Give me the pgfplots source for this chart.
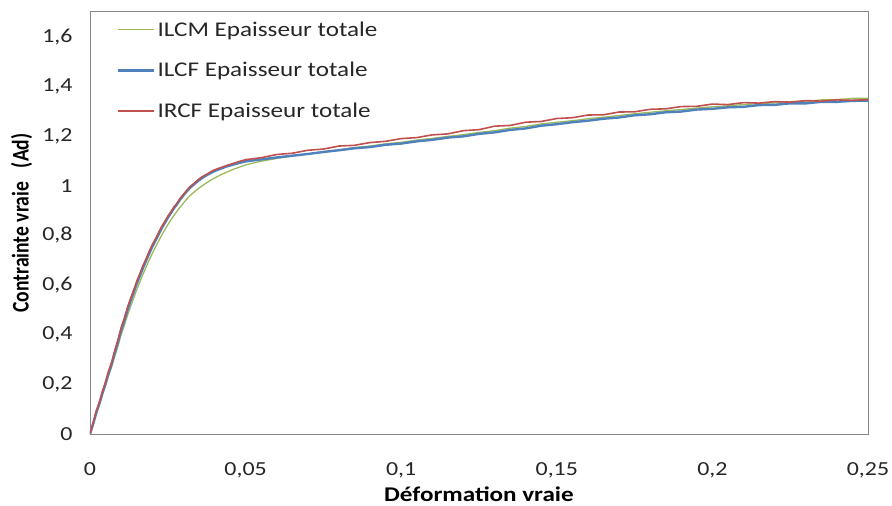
\documentclass[border=0pt]{standalone}
\usepackage{pgfplots}
\pgfplotsset{compat=1.18}
\usepackage{pgfplotstable}
\usepackage{fontspec}
\setmainfont{Carlito}[FakeStretch=1.2]
\newfontfamily\ylabfont{Carlito}[FakeStretch=0.82]
\definecolor{xlgreen}{HTML}{9BBB59}
\definecolor{xlblue}{HTML}{4F81BD}
\definecolor{xlred}{HTML}{C0504D}
\definecolor{axgray}{HTML}{878787}

\pgfplotstableread{
x y
0 0
0.001 0.038
0.002 0.08
0.003 0.116
0.004 0.158
0.005 0.195
0.006 0.236
0.007 0.272
0.008 0.315
0.009 0.355
0.010 0.4
0.011 0.436
0.012 0.476
0.013 0.512
0.014 0.546
0.015 0.58
0.016 0.612
0.017 0.643
0.018 0.672
0.019 0.7
0.020 0.727
0.021 0.752
0.022 0.776
0.023 0.8
0.024 0.822
0.025 0.843
0.026 0.862
0.027 0.881
0.028 0.898
0.029 0.915
0.030 0.93
0.031 0.945
0.032 0.958
0.033 0.97
0.034 0.98
0.035 0.99
0.036 0.999
0.037 1.008
0.038 1.016
0.039 1.024
0.040 1.031
0.042 1.044
0.044 1.055
0.046 1.066
0.048 1.075
0.050 1.084
0.055 1.099
0.060 1.11
0.065 1.12
0.070 1.128
0.075 1.138
0.080 1.145
0.085 1.154
0.090 1.160
0.095 1.169
0.100 1.175
0.105 1.184
0.110 1.191
0.115 1.199
0.120 1.206
0.125 1.215
0.130 1.222
0.135 1.232
0.140 1.239
0.145 1.249
0.150 1.256
0.155 1.262
0.160 1.270
0.165 1.276
0.170 1.283
0.175 1.290
0.180 1.296
0.185 1.302
0.190 1.307
0.195 1.313
0.200 1.318
0.205 1.322
0.210 1.327
0.215 1.331
0.220 1.334
0.225 1.339
0.230 1.340
0.235 1.346
0.240 1.347
0.245 1.352
0.250 1.352
}\ilcm

\pgfplotstableread{
x y
0 0
0.001 0.04
0.002 0.085
0.003 0.122
0.004 0.165
0.005 0.203
0.006 0.246
0.007 0.283
0.008 0.328
0.009 0.37
0.010 0.417
0.011 0.455
0.012 0.497
0.013 0.535
0.014 0.569
0.015 0.605
0.016 0.636
0.017 0.668
0.018 0.697
0.019 0.726
0.020 0.754
0.021 0.778
0.022 0.803
0.023 0.828
0.024 0.849
0.025 0.871
0.026 0.89
0.027 0.91
0.028 0.926
0.029 0.945
0.030 0.961
0.031 0.976
0.032 0.99
0.033 1.001
0.034 1.012
0.035 1.022
0.036 1.031
0.037 1.039
0.038 1.046
0.039 1.053
0.040 1.059
0.042 1.069
0.044 1.078
0.046 1.085
0.048 1.092
0.050 1.098
0.055 1.106
0.060 1.114
0.065 1.121
0.070 1.128
0.075 1.136
0.080 1.143
0.085 1.151
0.090 1.156
0.095 1.165
0.100 1.170
0.105 1.179
0.110 1.185
0.115 1.194
0.120 1.199
0.125 1.209
0.130 1.215
0.135 1.225
0.140 1.231
0.145 1.242
0.150 1.248
0.155 1.256
0.160 1.262
0.165 1.270
0.170 1.275
0.175 1.284
0.180 1.288
0.185 1.296
0.190 1.299
0.195 1.307
0.200 1.310
0.205 1.316
0.210 1.318
0.215 1.325
0.220 1.326
0.225 1.332
0.230 1.332
0.235 1.338
0.240 1.338
0.245 1.342
0.250 1.343
}\ilcf

\pgfplotstableread{
x y
0 0
0.001 0.045
0.002 0.092
0.003 0.128
0.004 0.172
0.005 0.21
0.006 0.255
0.007 0.29
0.008 0.338
0.009 0.38
0.010 0.428
0.011 0.465
0.012 0.508
0.013 0.545
0.014 0.578
0.015 0.615
0.016 0.645
0.017 0.678
0.018 0.705
0.019 0.735
0.020 0.762
0.021 0.785
0.022 0.81
0.023 0.835
0.024 0.855
0.025 0.877
0.026 0.895
0.027 0.915
0.028 0.93
0.029 0.95
0.030 0.965
0.031 0.98
0.032 0.995
0.033 1.005
0.034 1.016
0.035 1.027
0.036 1.036
0.037 1.043
0.038 1.05
0.039 1.058
0.040 1.064
0.042 1.073
0.044 1.082
0.046 1.09
0.048 1.098
0.050 1.105
0.055 1.113
0.060 1.126
0.065 1.131
0.070 1.143
0.075 1.148
0.080 1.160
0.085 1.163
0.090 1.174
0.095 1.179
0.100 1.190
0.105 1.194
0.110 1.205
0.115 1.209
0.120 1.222
0.125 1.226
0.130 1.240
0.135 1.243
0.140 1.256
0.145 1.259
0.150 1.271
0.155 1.274
0.160 1.285
0.165 1.286
0.170 1.297
0.175 1.298
0.180 1.308
0.185 1.310
0.190 1.319
0.195 1.320
0.200 1.329
0.205 1.327
0.210 1.335
0.215 1.333
0.220 1.339
0.225 1.337
0.230 1.343
0.235 1.341
0.240 1.346
0.245 1.344
0.250 1.347
}\ircf

\begin{document}
\begin{tikzpicture}
\begin{axis}[
  name=ax,
  at={(0,0)}, anchor=south west,
  scale only axis,
  width=778bp, height=422bp,
  xmin=0, xmax=0.25, ymin=0, ymax=1.7,
  xtick={0,0.05,0.1,0.15,0.2,0.25},
  xticklabels={0,{0,05},{0,1},{0,15},{0,2},{0,25}},
  ytick={0,0.2,0.4,0.6,0.8,1,1.2,1.4,1.6},
  yticklabels={0,{0,2},{0,4},{0,6},{0,8},1,{1,2},{1,4},{1,6}},
  scaled x ticks=false, scaled y ticks=false,
  major tick length=0pt,
  tick label style={font=\fontsize{20}{24}\selectfont, text=black!85},
  xticklabel shift=25bp,
  yticklabel shift=14bp,
  axis line style={draw=axgray, line width=1pt},
  xlabel={\textbf{Déformation vraie}},
  ylabel={\ylabfont\textbf{Contrainte vraie\hspace{0.4em} (Ad)}},
  xlabel style={font=\fontsize{21}{24}\selectfont, at={(axis description cs:0.5,-0.142)}, anchor=center},
  ylabel style={font=\fontsize{24}{28}\selectfont, at={(axis description cs:-0.088,0.5)}, anchor=center},
  legend style={draw=none, fill=none, at={(axis description cs:0.0347,0.982)}, anchor=north west,
    font=\fontsize{21}{24}\selectfont, row sep=20.5bp, inner sep=0pt, text=black!85},
  legend cell align=left,
  legend image code/.code={\draw[#1] (0bp,0bp) -- (36bp,0bp);},
]
\addplot[xlgreen, line width=1.3pt] table[x=x,y=y] {\ilcm};
\addlegendentry{ILCM Epaisseur totale}
\addplot[xlblue, line width=2.4pt] table[x=x,y=y] {\ilcf};
\addlegendentry{ILCF Epaisseur totale}
\addplot[xlred, line width=1.6pt] table[x=x,y=y] {\ircf};
\addlegendentry{IRCF Epaisseur totale}
\end{axis}
\pgfresetboundingbox
\path (-90bp,-72bp) rectangle (802bp,434bp);
\end{tikzpicture}
\end{document}
